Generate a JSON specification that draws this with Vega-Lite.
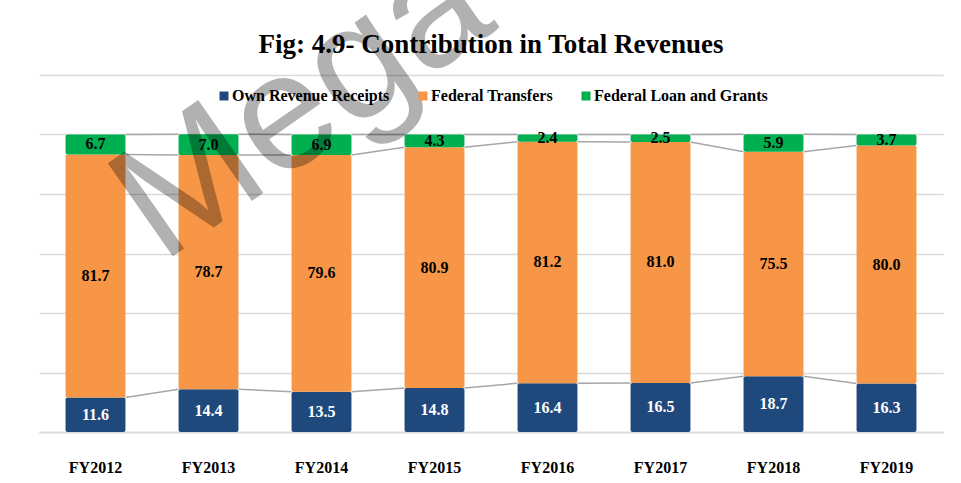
{
  "$schema": "https://vega.github.io/schema/vega-lite/v6.json",
  "width": 904,
  "height": 357,
  "autosize": "none",
  "padding": {"left": 39, "top": 75, "right": 18, "bottom": 51},
  "title": {"text": "Fig: 4.9- Contribution in Total Revenues", "font": "Liberation Serif", "fontSize": 27, "fontWeight": "bold", "color": "black", "anchor": "middle", "offset": 0, "dy": 140},
  "config": {"view": {"stroke": null}, "font": "Liberation Serif"},
  "datasets": {
    "rev": [
      {"year": "FY2012", "series": "Own Revenue Receipts", "value": 11.6},
      {"year": "FY2012", "series": "Federal Transfers", "value": 81.7},
      {"year": "FY2012", "series": "Federal Loan and Grants", "value": 6.7},
      {"year": "FY2013", "series": "Own Revenue Receipts", "value": 14.4},
      {"year": "FY2013", "series": "Federal Transfers", "value": 78.7},
      {"year": "FY2013", "series": "Federal Loan and Grants", "value": 7.0},
      {"year": "FY2014", "series": "Own Revenue Receipts", "value": 13.5},
      {"year": "FY2014", "series": "Federal Transfers", "value": 79.6},
      {"year": "FY2014", "series": "Federal Loan and Grants", "value": 6.9},
      {"year": "FY2015", "series": "Own Revenue Receipts", "value": 14.8},
      {"year": "FY2015", "series": "Federal Transfers", "value": 80.9},
      {"year": "FY2015", "series": "Federal Loan and Grants", "value": 4.3},
      {"year": "FY2016", "series": "Own Revenue Receipts", "value": 16.4},
      {"year": "FY2016", "series": "Federal Transfers", "value": 81.2},
      {"year": "FY2016", "series": "Federal Loan and Grants", "value": 2.4},
      {"year": "FY2017", "series": "Own Revenue Receipts", "value": 16.5},
      {"year": "FY2017", "series": "Federal Transfers", "value": 81.0},
      {"year": "FY2017", "series": "Federal Loan and Grants", "value": 2.5},
      {"year": "FY2018", "series": "Own Revenue Receipts", "value": 18.7},
      {"year": "FY2018", "series": "Federal Transfers", "value": 75.5},
      {"year": "FY2018", "series": "Federal Loan and Grants", "value": 5.9},
      {"year": "FY2019", "series": "Own Revenue Receipts", "value": 16.3},
      {"year": "FY2019", "series": "Federal Transfers", "value": 80.0},
      {"year": "FY2019", "series": "Federal Loan and Grants", "value": 3.7}
    ],
    "wm": [{"text": "Mega"}]
  },
  "layer": [
    {
      "data": {"name": "rev"},
      "transform": [
        {"calculate": "indexof(['Own Revenue Receipts','Federal Transfers','Federal Loan and Grants'], datum.series)", "as": "ord"},
        {"stack": "value", "groupby": ["year"], "sort": [{"field": "ord", "order": "ascending"}], "as": ["y0", "y1"]}
      ],
      "mark": {"type": "bar", "cornerRadius": 2},
      "encoding": {
        "x": {"field": "year", "type": "nominal", "title": null, "sort": null, "scale": {"paddingInner": 0.47, "paddingOuter": 0.235},
              "axis": {"bandPosition": 0.5, "labelAngle": 0, "labelAlign": "center", "labelFont": "Liberation Serif", "labelFontWeight": "bold", "labelFontSize": 16, "labelColor": "black", "labelPadding": 27, "ticks": false, "domainColor": "#D9D9D9", "domainWidth": 1.5}},
        "y": {"field": "y0", "type": "quantitative", "title": null, "scale": {"domain": [0, 120], "nice": false},
              "axis": {"values": [0, 20, 40, 60, 80, 100, 120], "labels": false, "ticks": false, "domain": false, "grid": true, "gridColor": "#D9D9D9", "gridWidth": 1.5}},
        "y2": {"field": "y1"},
        "color": {"field": "series", "type": "nominal",
                  "scale": {"domain": ["Own Revenue Receipts", "Federal Transfers", "Federal Loan and Grants"], "range": ["#1F497D", "#F79646", "#00B050"]},
                  "legend": {"orient": "none", "legendX": 177, "legendY": 13, "direction": "horizontal", "title": null, "symbolType": "square", "symbolSize": 81, "symbolStrokeWidth": 0, "symbolOpacity": 1, "labelFont": "Liberation Serif", "labelFontWeight": "bold", "labelFontSize": 16, "labelColor": "black", "labelOffset": 0, "labelLimit": 400, "columnPadding": 25}}
      }
    },
    {
      "data": {"name": "rev"},
      "transform": [
        {"calculate": "indexof(['Own Revenue Receipts','Federal Transfers','Federal Loan and Grants'], datum.series)", "as": "ord"},
        {"stack": "value", "groupby": ["year"], "sort": [{"field": "ord", "order": "ascending"}], "as": ["y0", "y1"]},
        {"window": [{"op": "lead", "field": "y1", "as": "ny1"}, {"op": "lead", "field": "year", "as": "nyear"}], "groupby": ["series"], "sort": [{"field": "year", "order": "ascending"}]},
        {"filter": "datum.nyear != null"}
      ],
      "mark": {"type": "rule", "color": "#A6A6A6", "strokeWidth": 1.5},
      "encoding": {
        "x": {"field": "year", "type": "nominal", "bandPosition": 1, "title": null},
        "x2": {"field": "nyear", "bandPosition": 0},
        "y": {"field": "y1", "type": "quantitative", "title": null},
        "y2": {"field": "ny1"}
      }
    },
    {
      "data": {"name": "rev"},
      "transform": [
        {"calculate": "indexof(['Own Revenue Receipts','Federal Transfers','Federal Loan and Grants'], datum.series)", "as": "ord"},
        {"stack": "value", "groupby": ["year"], "sort": [{"field": "ord", "order": "ascending"}], "as": ["y0", "y1"]},
        {"calculate": "(datum.y0 + datum.y1) / 2", "as": "ymid"}
      ],
      "mark": {"type": "text", "font": "Liberation Serif", "fontWeight": "bold", "fontSize": 16, "baseline": "middle", "align": "center"},
      "encoding": {
        "x": {"field": "year", "type": "nominal", "title": null},
        "y": {"field": "ymid", "type": "quantitative", "title": null},
        "text": {"field": "value", "type": "quantitative", "format": ".1f"},
        "color": {"condition": {"test": "datum.series == 'Own Revenue Receipts'", "value": "white"}, "value": "black"}
      }
    },
    {
      "data": {"name": "wm"},
      "mark": {"type": "text", "font": "Liberation Sans", "fontSize": 165, "angle": -35, "opacity": 0.3, "color": "black", "align": "center", "baseline": "middle"},
      "encoding": {
        "x": {"datum": "FY2014", "bandPosition": 0.175},
        "y": {"datum": 110},
        "text": {"field": "text"}
      }
    }
  ]
}
